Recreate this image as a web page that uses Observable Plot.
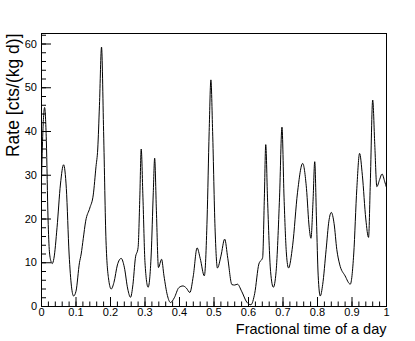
<!DOCTYPE html>
<html><head><meta charset="utf-8">
<script src="https://cdn.jsdelivr.net/npm/d3@7"></script>
<script src="https://cdn.jsdelivr.net/npm/@observablehq/plot@0.6"></script>
<style>html,body{margin:0;padding:0;background:#fff;} svg{display:block}</style>
</head><body><div id="chart"></div>
<script>
const times = [0.000,0.004,0.009,0.014,0.019,0.023,0.028,0.031,0.036,0.045,0.055,0.064,0.072,0.080,0.087,0.093,0.100,0.110,0.115,0.121,0.128,0.140,0.150,0.158,0.163,0.168,0.174,0.180,0.187,0.195,0.202,0.210,0.220,0.231,0.240,0.250,0.258,0.265,0.272,0.280,0.285,0.289,0.294,0.300,0.309,0.318,0.324,0.328,0.333,0.339,0.348,0.355,0.365,0.374,0.385,0.398,0.410,0.420,0.430,0.440,0.451,0.460,0.472,0.480,0.486,0.491,0.496,0.503,0.510,0.520,0.531,0.540,0.552,0.560,0.568,0.580,0.595,0.607,0.618,0.630,0.641,0.646,0.650,0.655,0.664,0.672,0.680,0.690,0.697,0.703,0.710,0.716,0.728,0.742,0.757,0.768,0.776,0.781,0.787,0.792,0.797,0.802,0.808,0.815,0.825,0.833,0.840,0.848,0.856,0.864,0.880,0.895,0.905,0.914,0.922,0.930,0.940,0.948,0.953,0.960,0.966,0.972,0.980,0.987,0.995,1.000];
const rates = [29,40,45.5,38,20,12.5,10.2,9.8,11,18,28,32.4,27,12,4.5,2.4,3.5,10,12,15.5,19.5,22.5,25.5,32,36,46,59.3,40,15,6,4.0,5.5,9.5,11.0,9,4,2.1,5,11,13.5,25,36.0,25,10,4.4,12,26,33.9,22,8.9,10.8,7,2.5,0.9,2,4.3,4.7,4.2,3.2,7,13.4,11,7.0,20,40,51.8,40,18,8.8,11.5,15.4,11,5.0,4.9,5.1,3.5,1,0.4,3,9.7,11.2,25,37.0,25,8,4.4,8,25,41.0,25,12,8.8,14,26,32.7,27,18,15.6,24,33.1,20,7,2.4,5,13,19.5,21.5,19,13,9.7,7,5.1,12,27,35.0,30,20,15.8,28,47.2,37,27.4,29,30.3,28.5,27.2];
const xTicks = [0,0.1,0.2,0.3,0.4,0.5,0.6,0.7,0.8,0.9,1];
const xTickLabels = ["0","0.1","0.2","0.3","0.4","0.5","0.6","0.7","0.8","0.9","1"];
const yTicks = [0,10,20,30,40,50,60];
const yTickLabels = ["0","10","20","30","40","50","60"];
const xTitle = "Fractional time of a day";
const yTitle = "Rate [cts/(kg d)]";

const data = times.map((t, i) => ({t, r: rates[i]}));
const xMinor = d3.range(0, 1.0001, 0.02);
const yMinor = d3.range(0, 62.01, 2);

const chart = Plot.plot({
  width: 415, height: 341,
  marginLeft: 41, marginRight: 29, marginTop: 33, marginBottom: 35,
  style: {fontFamily: "'Liberation Sans', Arial, Helvetica, sans-serif", fontSize: "11px", background: "white", color: "black"},
  x: {domain: [0, 1]},
  y: {domain: [0, 62.4]},
  marks: [
    Plot.line(data, {x: "t", y: "r", curve: "monotone-x", stroke: "black", strokeWidth: 1}),
    Plot.axisX(xMinor, {anchor: "bottom", tickSize: 4.5, dy: -4.5, fill: "none", label: null}),
    Plot.axisX(xTicks, {anchor: "bottom", tickSize: 9, dy: -9, fill: "none", label: null}),
    Plot.axisX(xTicks, {anchor: "bottom", tickSize: 0, tickPadding: 2, label: null,
      tickFormat: d => xTickLabels[xTicks.indexOf(d)]}),
    Plot.axisY(yMinor, {anchor: "left", tickSize: 5, dx: 5, fill: "none", label: null}),
    Plot.axisY(yTicks, {anchor: "left", tickSize: 10, dx: 10, fill: "none", label: null}),
    Plot.axisY(yTicks, {anchor: "left", tickSize: 0, tickPadding: 4.5, label: null,
      tickFormat: d => yTickLabels[yTicks.indexOf(d)]}),
    Plot.frame({stroke: "black"}),
    Plot.text([xTitle], {frameAnchor: "bottom-right", text: d => d, textAnchor: "end", lineAnchor: "bottom", dy: 27, fontSize: 14.5}),
    Plot.text([yTitle], {frameAnchor: "top-left", text: d => d, textAnchor: "end", lineAnchor: "bottom", rotate: -90, dx: -23, fontSize: 17.5})
  ]
});
document.getElementById("chart").appendChild(chart);
</script>
</body></html>
